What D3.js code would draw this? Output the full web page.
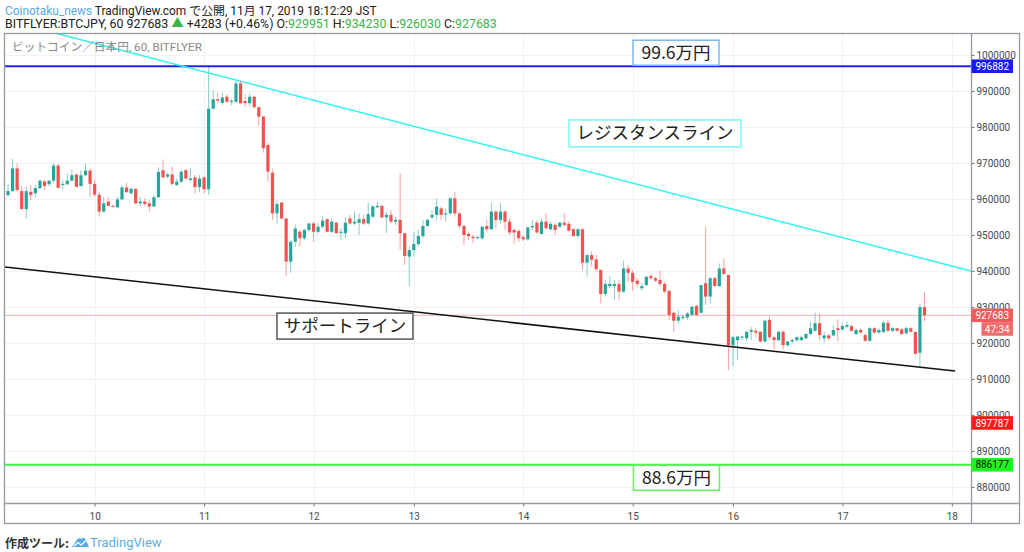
<!DOCTYPE html>
<html>
<head>
<meta charset="utf-8">
<script src="https://cdn.jsdelivr.net/npm/d3@7"></script>
<style>
  body { margin: 0; background: #fff; }
  svg { display: block; font-family: Roboto, "Noto Sans CJK JP", sans-serif; }
</style>
</head>
<body>
<svg id="chart" width="1024" height="552"></svg>
<script>
"use strict"

//------------------------------DATA------------------------------//
// day labels of the time axis and the bar (hour index) where each day starts
const dayLabels = ["10", "11", "12", "13", "14", "15", "16", "17", "18"];
const dayStartBar = [19, 43, 67, 89, 113, 137, 159, 183, 207];

// price axis ticks
const priceTicks = [880000, 890000, 900000, 910000, 920000, 930000, 940000,
    950000, 960000, 970000, 980000, 990000, 1000000];

// hourly candles, BTC/JPY bitFlyer, 9 Nov ~05:00 -> 17 Nov 18:00  [open, high, low, close]
const candles = [
    // 9th
    [961100, 964300, 960600, 962200], [962200, 971100, 962000, 968500], [968500, 969900, 962000, 962500],
    [962200, 963400, 957000, 957200], [957200, 963400, 954600, 962200], [962000, 963900, 959700, 961100],
    [961600, 963900, 960400, 963000], [963000, 965400, 962700, 965100], [964900, 965100, 962500, 963600],
    [964100, 965300, 963600, 965100], [965100, 969900, 964500, 969300], [969300, 969700, 962900, 963100],
    [963900, 965300, 962700, 964200], [964100, 967100, 963900, 965100], [965100, 968200, 964800, 966600],
    [966800, 967100, 963200, 963400], [963600, 968000, 963400, 966600], [966600, 969900, 966200, 967900],
    [967900, 968500, 960600, 964200],
    // 10th
    [964200, 965300, 960600, 961200], [961200, 962000, 955100, 956500], [956500, 960600, 956300, 958800],
    [959300, 960600, 957900, 958100], [958100, 958500, 957700, 957900], [957700, 960600, 957400, 959900],
    [959900, 963900, 959700, 963200], [963200, 964500, 961600, 961900], [961600, 963400, 961100, 962800],
    [962800, 963000, 958500, 958800], [958800, 960600, 957900, 959300], [959300, 960200, 957900, 958600],
    [958800, 959700, 956500, 957900], [957900, 961100, 957700, 960500], [960500, 968800, 960200, 967500],
    [968000, 971000, 965700, 966000], [966200, 967300, 965700, 966800], [966800, 969000, 963600, 964200],
    [963900, 965700, 963600, 964800], [964800, 968000, 964500, 967600], [968000, 968300, 965100, 965700],
    [965300, 968500, 964900, 965700], [966000, 966700, 961600, 963300], [963300, 966700, 962000, 965700],
    // 11th
    [966000, 966400, 961600, 962700], [962700, 997000, 961100, 985100], [985100, 990100, 984900, 987700],
    [987700, 989600, 986600, 987300], [986700, 989500, 986000, 988200], [988400, 989100, 986700, 987000],
    [987000, 987900, 986100, 987300], [987000, 992900, 986700, 992100], [992100, 993000, 986400, 986600],
    [987200, 989100, 985600, 986600], [986600, 989300, 985600, 988400], [988400, 988700, 985200, 985500],
    [985500, 985700, 980500, 982900], [982900, 983000, 972900, 974100], [975000, 975500, 964800, 967600],
    [967300, 968200, 954200, 956000], [956000, 959700, 953200, 958600], [959000, 959200, 954300, 954600],
    [954600, 954600, 938600, 942600], [942600, 948600, 939500, 948100], [948100, 952800, 946700, 951800],
    [950900, 951400, 946700, 949100], [949100, 951800, 948600, 951400], [951400, 953400, 950900, 953200],
    // 12th
    [953200, 953700, 948100, 950900], [950900, 953200, 950400, 952300], [952300, 955100, 951800, 954000],
    [954400, 954600, 950700, 950900], [950900, 954600, 950500, 953700], [953400, 953700, 950300, 950500],
    [950600, 951900, 948600, 950900], [950500, 954900, 949100, 953400], [954600, 955600, 952800, 953200],
    [953200, 956500, 952800, 953700], [953400, 956000, 950000, 954400], [954400, 955600, 952800, 953200],
    [953200, 959000, 952800, 955800], [955100, 958300, 954600, 957900], [957700, 959300, 957400, 958100],
    [958100, 958300, 954600, 954900], [954900, 956500, 950500, 955600], [955600, 956900, 953200, 953700],
    [953700, 955100, 952800, 954200], [954200, 967100, 945800, 950500], [950500, 950500, 941700, 944200],
    [944000, 946900, 935800, 945800],
    // 13th
    [945800, 950900, 944000, 947500], [947500, 951400, 946800, 949700], [949700, 954200, 949100, 952500],
    [952500, 954600, 952300, 954200], [954900, 956900, 954400, 955600], [955600, 960200, 954200, 957900],
    [957400, 957900, 954200, 955600], [955700, 957400, 953700, 956000], [956000, 960500, 955600, 960200],
    [960200, 962000, 955100, 956000], [956000, 956500, 951900, 952500], [952500, 952800, 947200, 950000],
    [950300, 950900, 948600, 949700], [949500, 950000, 947700, 949100], [949100, 949700, 948800, 949400],
    [949100, 952500, 948600, 952300], [952500, 954200, 950900, 951600], [951600, 959000, 951400, 956500],
    [956500, 956900, 951900, 954200], [954200, 958800, 953200, 956500], [956500, 956900, 951400, 953700],
    [953700, 954600, 950000, 950700], [951400, 951900, 947700, 950700], [951100, 951600, 948100, 949100],
    // 14th
    [949400, 950000, 948400, 948800], [948800, 952300, 948400, 952100], [952100, 954200, 951400, 952500],
    [953400, 954200, 950300, 950700], [950300, 954600, 950000, 953700], [953700, 956000, 951400, 951900],
    [951600, 953700, 951200, 953100], [952800, 953400, 950000, 951400], [952300, 953700, 951900, 953400],
    [953400, 956000, 952300, 952800], [953100, 953700, 950900, 951200], [951600, 951900, 949500, 949700],
    [949700, 951900, 949100, 951600], [951600, 951900, 940300, 942300], [942300, 944900, 938400, 944400],
    [944400, 945400, 941200, 943100], [943200, 944400, 939800, 940500], [940300, 940300, 931000, 933600],
    [933600, 937500, 932900, 936400], [935800, 938600, 935200, 936400], [935800, 937500, 931900, 936400],
    [936400, 937500, 931900, 934300], [934300, 942900, 933800, 940700], [940700, 941700, 937000, 939500],
    // 15th
    [939500, 940300, 934500, 937000], [937300, 938000, 935600, 936400], [935200, 936600, 934500, 935800],
    [936100, 938600, 935800, 938400], [938600, 939200, 937500, 938000], [938000, 938400, 937000, 937300],
    [937500, 940100, 935800, 936400], [936400, 937000, 933800, 934300], [934500, 934700, 926400, 927800],
    [928400, 928700, 923100, 926200], [926200, 929200, 925300, 927300], [926900, 927800, 926400, 927300],
    [927100, 928700, 926400, 928200], [927800, 930300, 927500, 930100], [930300, 930600, 927500, 927800],
    [928400, 936100, 928200, 936100], [936600, 952300, 930600, 932900], [932900, 938400, 931000, 938000],
    [938000, 938400, 935500, 935800], [935800, 942100, 935500, 940700], [940700, 943500, 938900, 939200],
    [938900, 938900, 912500, 919400],
    // 16th
    [919400, 921900, 913600, 921600], [920800, 921900, 915300, 921800], [921500, 922100, 920800, 921800],
    [921300, 923400, 920400, 923100], [923100, 924500, 920800, 923600], [923400, 924100, 921600, 922900],
    [923100, 923300, 920100, 920400], [920400, 926400, 920100, 926200], [926400, 927300, 920800, 921600],
    [921600, 921900, 918200, 920800], [920800, 923400, 920400, 923100], [923100, 923600, 918200, 919400],
    [919400, 920800, 918800, 920400], [920400, 921200, 919900, 920800], [920800, 921900, 920400, 921600],
    [920800, 922100, 920600, 921600], [921300, 922700, 921000, 922500], [922500, 925900, 922200, 924100],
    [923400, 928400, 923100, 925500], [925500, 928200, 920800, 922200], [921300, 923100, 920100, 922100],
    [922100, 922500, 920800, 921300], [922100, 925000, 921800, 923600], [924100, 926600, 920400, 923600],
    // 17th
    [923800, 925600, 923400, 924700], [924500, 925900, 924100, 925000], [924700, 925000, 923100, 923400],
    [922500, 924100, 922200, 923600], [923600, 924100, 922700, 922900], [922200, 922700, 920400, 920600],
    [920600, 924500, 920400, 924100], [924100, 924500, 922500, 922900], [922900, 924100, 922500, 923600],
    [923100, 926200, 922700, 925600], [925600, 926400, 923100, 923400], [923400, 924500, 923100, 924100],
    [924100, 924200, 923100, 923400], [923800, 924100, 922200, 922500], [922700, 924500, 922200, 924100],
    [924100, 924500, 922900, 923100], [923100, 923100, 916700, 917000], [917300, 931000, 913600, 929951],
    [929951, 934230, 926030, 927683]
];

// drawn trend lines [bar, price]
const resistanceLine = [[10.3, 1006100], [211.2, 940000]];
const supportLine = [[-0.66, 941100], [207.7, 912200]];

// horizontal levels
const levelHigh = 996882;
const levelLow = 886177;
const lastPrice = 927683;
const alertPrice = 897787;
const barCountdown = "47:34";

//------------------------------SETUP------------------------------//
const svg = d3.select("#chart");
const plot = {left: 5, top: 33.5, right: 971.5, bottom: 503.5};
const frame = {left: 4.5, top: 33.5, right: 1019.5, bottom: 523.5};

const xScale = d3.scaleLinear().domain([-0.66, 211.2]).range([5, 971]);
const yScale = d3.scaleLinear().domain([875278, 1005833]).range([504, 34]);

const UP = "#26a69a";
const DOWN = "#ef5350";

svg.append("defs").append("clipPath").attr("id", "plotClip")
    .append("rect")
    .attr("x", plot.left).attr("y", plot.top - 1)
    .attr("width", plot.right - plot.left).attr("height", plot.bottom - plot.top + 1);

//------------------------------GRID------------------------------//
const grid = svg.append("g").attr("stroke", "#eef1f6").attr("stroke-width", 1);
grid.selectAll("line.h").data(priceTicks).join("line")
    .attr("x1", plot.left).attr("x2", plot.right)
    .attr("y1", d => Math.round(yScale(d)) + 0.5).attr("y2", d => Math.round(yScale(d)) + 0.5);
grid.selectAll("line.v").data(dayStartBar).join("line")
    .attr("y1", plot.top).attr("y2", plot.bottom)
    .attr("x1", d => Math.round(xScale(d)) + 0.5).attr("x2", d => Math.round(xScale(d)) + 0.5);

//------------------------------MARKS------------------------------//
const marks = svg.append("g").attr("clip-path", "url(#plotClip)");

// last price line
marks.append("line")
    .attr("x1", plot.left).attr("x2", plot.right)
    .attr("y1", yScale(lastPrice)).attr("y2", yScale(lastPrice))
    .attr("stroke", "#f7b4b4").attr("stroke-width", 1);

// candles
const candleG = marks.append("g");
candleG.selectAll("line").data(candles).join("line")
    .attr("x1", (d, i) => xScale(i)).attr("x2", (d, i) => xScale(i))
    .attr("y1", d => yScale(d[1])).attr("y2", d => yScale(d[2]))
    .attr("stroke", d => d[3] >= d[0] ? UP : DOWN)
    .attr("stroke-opacity", 0.55)
    .attr("stroke-width", 1);
candleG.selectAll("rect").data(candles).join("rect")
    .attr("x", (d, i) => xScale(i) - 1.6)
    .attr("width", 3.2)
    .attr("y", d => yScale(Math.max(d[0], d[3])))
    .attr("height", d => Math.max(1, Math.abs(yScale(d[0]) - yScale(d[3]))))
    .attr("fill", d => d[3] >= d[0] ? UP : DOWN);

// horizontal levels
marks.append("line")
    .attr("x1", plot.left).attr("x2", plot.right)
    .attr("y1", yScale(levelHigh)).attr("y2", yScale(levelHigh))
    .attr("stroke", "#2424f2").attr("stroke-width", 2);
marks.append("line")
    .attr("x1", plot.left).attr("x2", plot.right)
    .attr("y1", yScale(levelLow)).attr("y2", yScale(levelLow))
    .attr("stroke", "#3ef03e").attr("stroke-width", 2);

// trend lines
const trend = d3.line().x(d => xScale(d[0])).y(d => yScale(d[1]));
marks.append("path").datum(resistanceLine)
    .attr("d", trend).attr("fill", "none")
    .attr("stroke", "#33f3f3").attr("stroke-width", 1.5);
marks.append("path").datum(supportLine)
    .attr("d", trend).attr("fill", "none")
    .attr("stroke", "#111").attr("stroke-width", 1.5);

//------------------------------NOTES------------------------------//
const noteFont = "'Noto Sans CJK JP', 'Noto Sans', sans-serif";
function note(text, cx, cy, w, h, stroke) {
    const g = svg.append("g");
    g.append("rect")
        .attr("x", cx - w / 2).attr("y", cy - h / 2)
        .attr("width", w).attr("height", h)
        .attr("fill", "#fff").attr("stroke", stroke).attr("stroke-width", 1.5);
    g.append("text")
        .attr("x", cx).attr("y", cy + 6)
        .attr("text-anchor", "middle")
        .attr("font-family", noteFont)
        .attr("font-size", 17.5)
        .attr("fill", "#222")
        .text(text);
}
note("99.6万円", xScale(146.5), yScale(levelHigh) - 13.5, 86, 25, "#7fb6ef");
note("88.6万円", xScale(146.6), yScale(levelLow) + 13, 86, 25, "#66f266");
note("レジスタンスライン", xScale(141.9), yScale(978200), 172, 27, "#7ff5f5");
note("サポートライン", xScale(73.9), yScale(924700), 136, 26, "#555");

//------------------------------AXES------------------------------//
const axisColor = "#9598a1";
const yAxis = svg.append("g")
    .attr("transform", `translate(${plot.right},0)`)
    .call(d3.axisRight(yScale).tickValues(priceTicks).tickSize(3).tickPadding(2).tickFormat(d => d));
yAxis.select(".domain").remove();
yAxis.selectAll("line").attr("stroke", "#777");
yAxis.selectAll("text").attr("font-size", 10).attr("fill", "#4a4a4a").attr("font-family", "Roboto");

const xAxis = svg.append("g")
    .attr("transform", `translate(0,${plot.bottom})`)
    .call(d3.axisBottom(xScale).tickValues(dayStartBar).tickSize(3).tickPadding(6)
        .tickFormat((d, i) => dayLabels[i]));
xAxis.select(".domain").remove();
xAxis.selectAll("line").attr("stroke", "#777");
xAxis.selectAll("text").attr("font-size", 10).attr("fill", "#4a4a4a").attr("font-family", "Roboto");

// frame and axis lines
svg.append("rect")
    .attr("x", frame.left).attr("y", frame.top)
    .attr("width", frame.right - frame.left).attr("height", frame.bottom - frame.top)
    .attr("fill", "none").attr("stroke", axisColor).attr("stroke-width", 1.3);
svg.append("line")
    .attr("x1", plot.right).attr("x2", plot.right).attr("y1", frame.top).attr("y2", frame.bottom)
    .attr("stroke", axisColor).attr("stroke-width", 1.3);
svg.append("line")
    .attr("x1", frame.left).attr("x2", frame.right).attr("y1", plot.bottom).attr("y2", plot.bottom)
    .attr("stroke", axisColor).attr("stroke-width", 1.3);

// price labels on the axis
function priceTag(value, text, fill, color, x0 = plot.right, dy = 0) {
    const cy = yScale(value) + dy;
    svg.append("rect")
        .attr("x", x0).attr("y", cy - 6.8)
        .attr("width", 1013 - x0).attr("height", 13.6)
        .attr("fill", fill);
    svg.append("text")
        .attr("x", (x0 + 1013) / 2).attr("y", cy + 3.6)
        .attr("text-anchor", "middle")
        .attr("font-size", 10).attr("font-family", "Roboto")
        .attr("fill", color)
        .text(text);
}
priceTag(levelHigh, String(levelHigh), "#1a1af5", "#fff");
priceTag(lastPrice, String(lastPrice), "#f05c5c", "#fff");
priceTag(lastPrice, barCountdown, "#f26b6b", "#fff", 981.5, 13.6);
priceTag(alertPrice, String(alertPrice), "#ff1a1a", "#fff");
priceTag(levelLow, String(levelLow), "#1ef51e", "#111");

//------------------------------HEADER------------------------------//
function fitWidth(sel, w) {
    const len = sel.node().getComputedTextLength();
    const fs = parseFloat(sel.attr("font-size"));
    sel.attr("font-size", fs * w / len);
}
const green = "#3cb44b";
const head1 = svg.append("text").attr("x", 5).attr("y", 15)
    .attr("font-size", 12.5).attr("fill", "#222");
head1.append("tspan").attr("fill", "#5aa9e6").text("Coinotaku_news");
head1.append("tspan").text(" TradingView.com で公開, 11月 17, 2019 18:12:29 JST");
fitWidth(head1, 372);

const head2 = svg.append("text").attr("x", 5).attr("y", 28)
    .attr("font-size", 12.5).attr("fill", "#222");
head2.append("tspan").text("BITFLYER:BTCJPY, 60 927683 ");
head2.append("tspan").attr("fill", green).text("▲");
head2.append("tspan").text(" +4283 (+0.46%) O:");
head2.append("tspan").attr("fill", green).text("929951");
head2.append("tspan").text(" H:");
head2.append("tspan").attr("fill", green).text("934230");
head2.append("tspan").text(" L:");
head2.append("tspan").attr("fill", green).text("926030");
head2.append("tspan").text(" C:");
head2.append("tspan").attr("fill", green).text("927683");
fitWidth(head2, 492);

const legend = svg.append("text").attr("x", 12).attr("y", 51)
    .attr("font-size", 11.5).attr("fill", "#888")
    .text("ビットコイン／日本円, 60, BITFLYER");
fitWidth(legend, 190);

//------------------------------FOOTER------------------------------//
svg.append("text").attr("x", 5).attr("y", 547.5)
    .attr("font-size", 12).attr("font-weight", "bold").attr("fill", "#333")
    .attr("font-family", "'Noto Sans CJK JP', sans-serif")
    .text("作成ツール:");
const logo = svg.append("g").attr("transform", "translate(72,537)");
logo.append("path")
    .attr("d", "M0,10 L4,4 Q6,0 9,2 Q12,-1 14,3 L17,10 Z")
    .attr("fill", "#5aaee6");
logo.append("polyline")
    .attr("points", "2,9 6,5.5 9,8 14,3.5")
    .attr("fill", "none").attr("stroke", "#fff").attr("stroke-width", 1.3);
svg.append("text").attr("x", 90).attr("y", 547)
    .attr("font-size", 13).attr("fill", "#5aaee6")
    .text("TradingView");
</script>
</body>
</html>
